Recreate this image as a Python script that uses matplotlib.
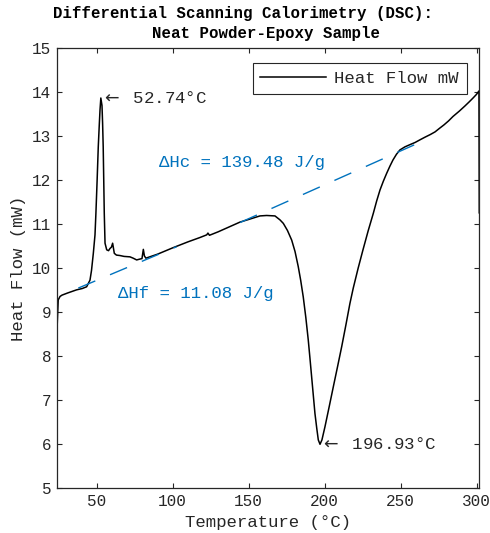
import matplotlib
matplotlib.use("Agg")
import matplotlib.pyplot as plt

plt.rcParams['font.family'] = ['Liberation Mono', 'DejaVu Sans Mono']

# DSC trace: temperature (°C) and heat flow (mW)
temperature = [23.7, 23.9, 24.7, 25.9, 27.2, 31.0, 36.8, 40.5, 43.4, 45.6, 46.6, 47.8,
               48.9, 49.5, 50.3, 51.05, 51.7, 52.2, 52.74, 53.5, 53.9, 54.3, 55.0,
               55.5, 56.6, 57.8, 58.75, 59.7, 60.5, 61.6, 63.0, 65.3, 68.0, 71.9, 74.0,
               76.3, 78.5, 79.8, 80.7, 81.4, 82.4, 90.0, 100.4, 110.0, 118.0, 122.4,
               123.2, 124.2, 130.0, 144.3, 150.0, 157.4, 161.8, 167.3, 170.6, 172.8,
               175.5, 178.3, 180.5, 182.6, 184.2, 185.9, 187.6, 189.2, 190.3, 191.4,
               192.5, 193.6, 194.8, 195.8, 196.93, 198.2, 200.2, 203.0, 205.7, 208.5,
               211.2, 214.0, 216.6, 218.8, 222.0, 225.2, 228.6, 232.0, 234.2, 236.4,
               238.6, 240.8, 242.9, 244.9, 247.2, 249.5, 252.8, 256.1, 259.5, 262.7,
               266.0, 269.5, 272.6, 275.5, 278.5, 281.5, 284.4, 288.5, 292.3, 295.0,
               297.6, 299.8, 301.5, 301.7]
heat_flow = [7.92, 8.60, 9.28, 9.36, 9.39, 9.44, 9.51, 9.54, 9.58, 9.73, 9.95, 10.34,
             10.76, 11.25, 12.00, 12.76, 13.25, 13.60, 13.87, 13.70, 13.30, 12.76,
             11.25, 10.57, 10.42, 10.40, 10.45, 10.48, 10.57, 10.34, 10.30, 10.29,
             10.27, 10.26, 10.23, 10.19, 10.21, 10.22, 10.43, 10.28, 10.23, 10.32,
             10.47, 10.60, 10.70, 10.76, 10.80, 10.75, 10.83, 11.05, 11.11, 11.19,
             11.20, 11.19, 11.10, 11.02, 10.86, 10.64, 10.38, 10.04, 9.73, 9.35,
             8.88, 8.37, 7.96, 7.54, 7.12, 6.70, 6.36, 6.10, 6.00, 6.10, 6.40, 6.86,
             7.31, 7.77, 8.22, 8.72, 9.20, 9.55, 10.00, 10.42, 10.85, 11.25, 11.53,
             11.78, 11.98, 12.16, 12.32, 12.46, 12.59, 12.69, 12.76, 12.81, 12.86,
             12.92, 12.98, 13.04, 13.10, 13.18, 13.26, 13.35, 13.45, 13.57, 13.69,
             13.78, 13.87, 13.95, 14.03, 11.26]

# peak labels
melt_peak = (52.74, 13.87)
cure_peak = (196.93, 6.00)

# integration baselines
baseline_f_x = [37.9, 102.6]
baseline_f_y = [9.55, 10.49]
baseline_c_x = [144.3, 262.5]
baseline_c_y = [11.04, 12.86]

dark = '#262626'
blue = '#0072BD'

fig = plt.figure(figsize=(4.9, 5.33), dpi=100)
ax = fig.add_axes([0.1157, 0.0839, 0.8624, 0.8255])

ax.plot(temperature, heat_flow, color='black', lw=1.1, label='Heat Flow mW')
ax.plot(baseline_f_x, baseline_f_y, color=blue, lw=1.0, dashes=(13.3, 11.5))
ax.plot(baseline_c_x, baseline_c_y, color=blue, lw=1.0, dashes=(13.3, 11.5))

ax.set_xlim(temperature[0], temperature[-1])
ax.set_ylim(5, 15)
ax.set_xticks([50, 100, 150, 200, 250, 300])
ax.set_yticks(range(5, 16))

ax.tick_params(direction='in', top=True, right=True, length=3.5, width=0.8,
               color=dark, labelcolor=dark, labelsize=11.5, pad=4)
for s in ax.spines.values():
    s.set_color(dark)
    s.set_linewidth(0.9)

ax.set_xlabel('Temperature (°C)', fontsize=12.5, color=dark, va='baseline')
ax.xaxis.set_label_coords(0.5, -0.0873)
ax.set_ylabel('Heat Flow (mW)', fontsize=12.5, color=dark, va='baseline')
ax.yaxis.set_label_coords(-0.079, 0.5)

fig.text(0.495, 1 - 18 / 533, 'Differential Scanning Calorimetry (DSC):',
         ha='center', va='baseline', fontsize=11.3, fontweight='bold', color='black')
fig.text(0.543, 1 - 38 / 533, 'Neat Powder-Epoxy Sample',
         ha='center', va='baseline', fontsize=11.3, fontweight='bold', color='black')

ax.text(melt_peak[0], melt_peak[1], r'$\leftarrow$ 52.74°C', ha='left', va='center',
        fontsize=12.5, color=dark)
ax.text(cure_peak[0], cure_peak[1], r'$\leftarrow$ 196.93°C', ha='left', va='center',
        fontsize=12.5, color=dark)
ax.text(91.2, 12.40, 'ΔHc = 139.48 J/g', ha='left', va='center', fontsize=12.5, color=blue)
ax.text(64.2, 9.42, 'ΔHf = 11.08 J/g', ha='left', va='center', fontsize=12.5, color=blue)

leg = ax.legend(loc='upper right', bbox_to_anchor=(0.970, 0.967), borderaxespad=0,
                fontsize=12.5, fancybox=False, framealpha=1, edgecolor=dark,
                handlelength=3.8, handletextpad=0.45, borderpad=0.45)
leg.get_frame().set_linewidth(0.8)
for t in leg.get_texts():
    t.set_color(dark)

fig.savefig('out.png', dpi=100)
